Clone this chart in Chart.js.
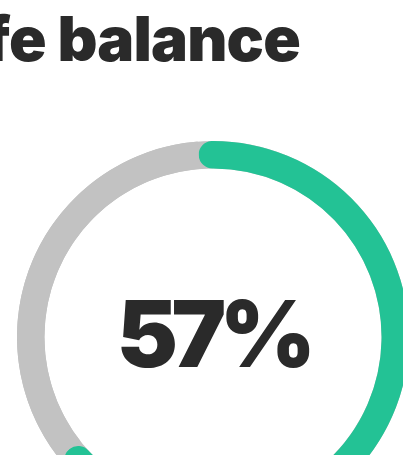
<!DOCTYPE html>
<html>
<head>
<meta charset="utf-8">
<script src="https://cdn.jsdelivr.net/npm/chart.js@4"></script>
<style>
  html, body { margin:0; padding:0; width:403px; height:455px; overflow:hidden; background:#fff; }
  #title { position:absolute; right:103px; top:8px; white-space:nowrap; font-family:Inter, "Noto Sans", sans-serif; font-weight:900; font-size:62px; line-height:62px; color:#2a2a2a; letter-spacing:-0.8px; margin:0; }
  #wrap { position:absolute; left:17px; top:141px; width:392px; height:392px; }
  #label { position:absolute; left:13px; width:400px; text-align:center; top:288px; font-family:Inter, "Noto Sans", sans-serif; font-weight:900; font-size:92px; line-height:92px; color:#2a2a2a; white-space:nowrap; letter-spacing:-6.5px; }
</style>
</head>
<body>
<h1 id="title">Work-life balance</h1>
<div id="wrap"><canvas id="c"></canvas></div>
<div id="label"></div>
<script>
const titleText = "Work-life balance";
const percentLabel = 57;
const categories = ["Balanced", "Not balanced"];
const arcValues = [65.7, 34.3];
const colors = ["#23c295", "#c2c2c2"];

document.getElementById('title').textContent = titleText;
document.getElementById('label').textContent = percentLabel + "%";

const trackPlugin = {
  id: 'track',
  beforeDatasetsDraw(chart) {
    const meta = chart.getDatasetMeta(0);
    const a = meta.data[0];
    if (!a) return;
    const ctx = chart.ctx;
    ctx.save();
    ctx.beginPath();
    ctx.arc(a.x, a.y, a.outerRadius, 0, Math.PI * 2);
    ctx.arc(a.x, a.y, a.innerRadius, 0, Math.PI * 2, true);
    ctx.closePath();
    ctx.fillStyle = colors[1];
    ctx.fill();
    ctx.restore();
  }
};

new Chart(document.getElementById('c'), {
  type: 'doughnut',
  data: {
    labels: categories,
    datasets: [{
      data: arcValues,
      backgroundColor: colors,
      borderWidth: 0,
      borderRadius: (ctx) => ctx.dataIndex === 0 ? 14 : 0
    }]
  },
  options: {
    responsive: true,
    maintainAspectRatio: false,
    animation: false,
    cutout: '86%',
    rotation: -4.5,
    layout: { padding: 0 },
    plugins: { legend: { display: false }, tooltip: { enabled: false }, title: { display: false } }
  },
  plugins: [trackPlugin]
});
</script>
</body>
</html>
